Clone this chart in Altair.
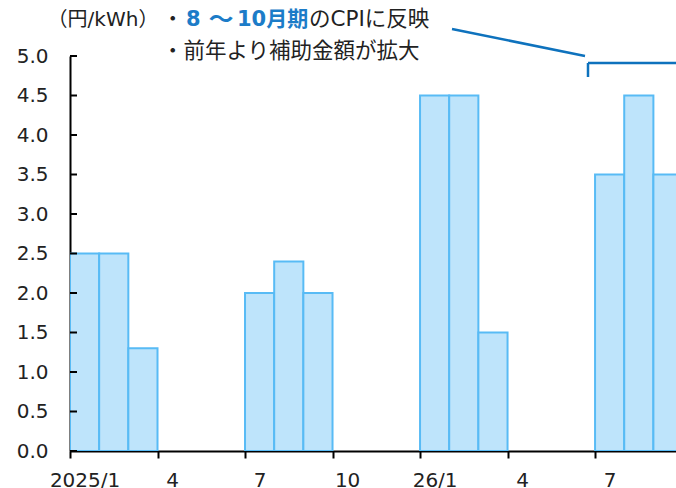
import altair as alt
import pandas as pd

# Monthly electricity subsidy (yen per kWh)
months = [
    "2025/1", "2025/2", "2025/3", "2025/4", "2025/5", "2025/6",
    "2025/7", "2025/8", "2025/9", "2025/10", "2025/11", "2025/12",
    "2026/1", "2026/2", "2026/3", "2026/4", "2026/5", "2026/6",
    "2026/7", "2026/8", "2026/9",
]
subsidy = [2.5, 2.5, 1.3, 0, 0, 0, 2.0, 2.4, 2.0, 0, 0, 0,
           4.5, 4.5, 1.5, 0, 0, 0, 3.5, 4.5, 3.5]

x_tick_positions = [0, 3, 6, 9, 12, 15, 18]
x_tick_labels = ["2025/1", "4", "7", "10", "26/1", "4", "7"]
y_ticks = [0.0, 0.5, 1.0, 1.5, 2.0, 2.5, 3.0, 3.5, 4.0, 4.5, 5.0]

unit_text = ["（円/kWh）"]
bullet_text = ["・"]
note1_eight = ["8"]
note1_wave = ["～"]
note1_period = ["10月期"]
note1_rest = ["のCPIに反映"]
note2_text = ["・前年より補助金額が拡大"]

W, H = 606, 395
LEFT, TOP = 70, 56
X_MAX = 20.775

FILL = "#BEE4FB"
EDGE = "#58BBF5"
NOTE_BLUE = "#1C7CC8"
LINE_BLUE = "#0E72BD"
INK = "#222222"
LATIN = "DejaVu Sans"
CJK = "DejaVu Sans, Noto Sans CJK JP"

bars = pd.DataFrame({
    "month": months,
    "start": list(range(len(months))),
    "end": [i + 1 for i in range(len(months))],
    "base": [0.0] * len(months),
    "value": subsidy,
})
bars = bars[bars["value"] > 0]

x_scale = alt.Scale(domain=[0, X_MAX], nice=False, zero=False)
y_scale = alt.Scale(domain=[0, 5], nice=False, zero=True)

label_expr = "[" + ",".join(f"'{s}'" for s in x_tick_labels) + "][round(datum.value / 3)]"

x_axis = alt.Axis(
    values=x_tick_positions, labelExpr=label_expr, title=None,
    grid=False, labelOffset=W / X_MAX / 2, labelFlush=False,
    labelOverlap=False, labelAlign="center",
    tickSize=7, tickWidth=2, tickColor="black",
    domainColor="black", domainWidth=2,
    labelFont=LATIN, labelFontSize=20, labelColor=INK, labelPadding=12,
)
y_axis = alt.Axis(
    values=y_ticks, format=".1f", title=None, grid=False, ticks=False,
    domainColor="black", domainWidth=2,
    labelFont=LATIN, labelFontSize=20, labelColor=INK, labelPadding=22,
)

bar_layer = alt.Chart(bars).mark_rect(
    fill=FILL, stroke=EDGE, strokeWidth=2, clip=True
).encode(
    x=alt.X("start:Q", scale=x_scale, axis=x_axis),
    x2="end:Q",
    y=alt.Y("value:Q", scale=y_scale, axis=y_axis),
    y2="base:Q",
    tooltip=["month:N", "value:Q"],
)

# inward-facing tick marks on the value axis
y_tick_layer = alt.Chart(pd.DataFrame({"v": y_ticks})).mark_rule(
    color="black", strokeWidth=2
).encode(
    y=alt.Y("v:Q", scale=y_scale, axis=y_axis),
    x=alt.value(0),
    x2=alt.value(7),
)


def note(text_values, px, py, size, color=INK, weight="normal", align="left", font=CJK):
    return alt.Chart(pd.DataFrame({"t": text_values})).mark_text(
        align=align, baseline="middle", font=font, fontSize=size,
        fontWeight=weight, color=color,
    ).encode(
        text="t:N",
        x=alt.value(px - LEFT),
        y=alt.value(py - TOP),
    )


unit_layer = note(unit_text, 103, 20, 20, align="center")
bullet1 = note(bullet_text, 162, 20, 21.5)
eight = note(note1_eight, 186, 20, 21, color=NOTE_BLUE, weight="bold")
wave = note(note1_wave, 221, 20, 25, color=NOTE_BLUE, weight="bold", align="center")
period = note(note1_period, 237, 20, 21, color=NOTE_BLUE, weight="bold")
rest_part = note(note1_rest, 309, 20, 21.5)
line2 = note(note2_text, 162, 52, 21.5)


def segment(x1, y1, x2, y2):
    return alt.Chart(pd.DataFrame({"k": [0]})).mark_rule(
        color=LINE_BLUE, strokeWidth=2.5
    ).encode(
        x=alt.value(x1 - LEFT), y=alt.value(y1 - TOP),
        x2=alt.value(x2 - LEFT), y2=alt.value(y2 - TOP),
    )


leader = segment(452, 29, 585, 56)
bracket_top = segment(588, 63, 690, 63)
bracket_side = segment(588, 63, 588, 77)

chart = alt.layer(
    bar_layer, y_tick_layer, unit_layer, bullet1, eight, wave, period,
    rest_part, line2, leader, bracket_top, bracket_side,
).properties(
    width=W, height=H,
    autosize=alt.AutoSizeParams(type="none"),
    padding={"left": LEFT, "top": TOP, "right": 0, "bottom": 488 - TOP - H},
).configure_view(stroke=None)

chart.save("out.html", embed_options={"renderer": "svg", "actions": False})
